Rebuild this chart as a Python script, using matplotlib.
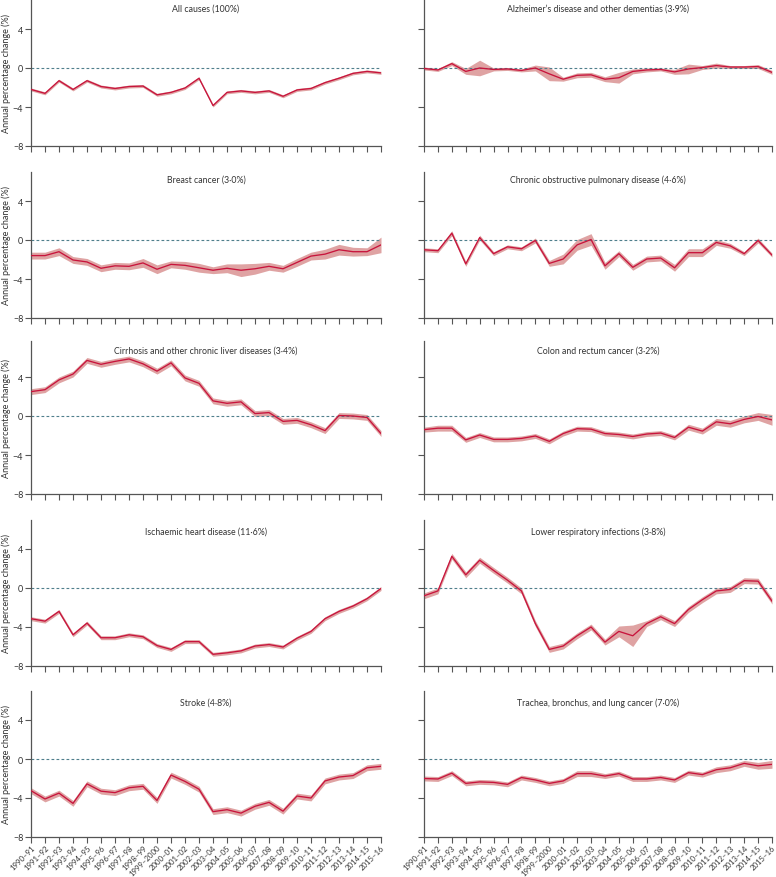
import numpy as np
import matplotlib
matplotlib.use("Agg")
import matplotlib.pyplot as plt

plt.rcParams['font.family'] = ['Lato', 'DejaVu Sans']

periods = ["1990–91", "1991–92", "1992–93", "1993–94", "1994–95", "1995–96", "1996–97",
           "1997–98", "1998–99", "1999–2000", "2000–01", "2001–02", "2002–03", "2003–04",
           "2004–05", "2005–06", "2006–07", "2007–08", "2008–09", "2009–10", "2010–11",
           "2011–12", "2012–13", "2013–14", "2014–15", "2015–16"]

titles = ["All causes (100%)",
          "Alzheimer’s disease and other dementias (3·9%)",
          "Breast cancer (3·0%)",
          "Chronic obstructive pulmonary disease (4·6%)",
          "Cirrhosis and other chronic liver diseases (3·4%)",
          "Colon and rectum cancer (3·2%)",
          "Ischaemic heart disease (11·6%)",
          "Lower respiratory infections (3·8%)",
          "Stroke (4·8%)",
          "Trachea, bronchus, and lung cancer (7·0%)"]

# mean annual percentage change
all_causes = [-2.2, -2.6, -1.3, -2.2, -1.3, -1.9, -2.1, -1.9, -1.85, -2.75, -2.5, -2.05, -1.05,
              -3.85, -2.5, -2.35, -2.5, -2.35, -2.9, -2.25, -2.1, -1.5, -1.05, -0.55, -0.35, -0.5]
alzheimers = [-0.05, -0.2, 0.45, -0.35, 0.0, -0.15, -0.1, -0.25, 0.0, -0.6, -1.15, -0.75, -0.7,
              -1.15, -1.0, -0.35, -0.2, -0.15, -0.4, -0.1, 0.05, 0.25, 0.1, 0.1, 0.15, -0.45]
breast = [-1.6, -1.6, -1.2, -2.05, -2.25, -2.9, -2.65, -2.7, -2.35, -3.0, -2.5, -2.6, -2.85,
          -3.1, -2.9, -3.1, -2.95, -2.7, -2.95, -2.3, -1.65, -1.45, -1.0, -1.2, -1.2, -0.5]
copd = [-1.0, -1.1, 0.7, -2.45, 0.25, -1.4, -0.7, -0.9, -0.05, -2.4, -1.95, -0.5, 0.05,
        -2.65, -1.4, -2.8, -1.95, -1.85, -2.85, -1.3, -1.3, -0.25, -0.6, -1.4, -0.05, -1.55]
cirrhosis = [2.5, 2.7, 3.7, 4.3, 5.7, 5.3, 5.6, 5.85, 5.35, 4.6, 5.45, 3.9, 3.35, 1.55, 1.3,
             1.45, 0.25, 0.35, -0.55, -0.45, -0.9, -1.5, 0.05, 0.0, -0.15, -1.8]
colon = [-1.4, -1.25, -1.25, -2.45, -1.95, -2.4, -2.4, -2.3, -2.05, -2.6, -1.8, -1.3, -1.35,
         -1.8, -1.9, -2.1, -1.85, -1.75, -2.2, -1.15, -1.55, -0.6, -0.8, -0.35, -0.05, -0.4]
ihd = [-3.15, -3.4, -2.4, -4.8, -3.6, -5.1, -5.1, -4.8, -5.0, -5.9, -6.3, -5.5, -5.5, -6.8,
       -6.65, -6.45, -5.95, -5.8, -6.05, -5.15, -4.45, -3.15, -2.4, -1.85, -1.1, -0.05]
lri = [-0.8, -0.3, 3.25, 1.35, 2.85, 1.8, 0.8, -0.3, -3.65, -6.3, -5.95, -4.9, -4.0, -5.55,
       -4.45, -4.9, -3.65, -2.95, -3.65, -2.2, -1.2, -0.3, -0.15, 0.75, 0.7, -1.35]
stroke = [-3.25, -4.1, -3.5, -4.55, -2.55, -3.3, -3.45, -2.95, -2.8, -4.25, -1.65, -2.3, -3.1,
          -5.4, -5.2, -5.55, -4.85, -4.45, -5.35, -3.8, -4.0, -2.25, -1.85, -1.7, -0.9, -0.75]
lung = [-2.0, -2.05, -1.45, -2.5, -2.35, -2.4, -2.6, -1.9, -2.15, -2.5, -2.25, -1.5, -1.5,
        -1.75, -1.5, -2.05, -2.05, -1.9, -2.15, -1.4, -1.6, -1.1, -0.9, -0.45, -0.7, -0.55]

# half-width of the 95% uncertainty interval
all_causes_ui = [0.15] * 26
alzheimers_ui = [0.15, 0.15, 0.2, 0.3, 0.8, 0.15, 0.15, 0.15, 0.3, 0.7, 0.2, 0.25, 0.25,
                 0.25, 0.55, 0.25, 0.2, 0.15, 0.25, 0.5, 0.2, 0.25, 0.15, 0.15, 0.2, 0.2]
breast_ui = [0.35, 0.35, 0.4, 0.35, 0.35, 0.35, 0.35, 0.35, 0.45, 0.45, 0.35, 0.4, 0.45,
             0.35, 0.45, 0.65, 0.55, 0.4, 0.35, 0.4, 0.4, 0.5, 0.55, 0.45, 0.4, 0.8]
copd_ui = [0.2, 0.2, 0.25, 0.25, 0.25, 0.2, 0.2, 0.2, 0.25, 0.3, 0.5, 0.55, 0.6, 0.35,
           0.3, 0.3, 0.3, 0.3, 0.35, 0.4, 0.4, 0.3, 0.25, 0.2, 0.25, 0.2]
cirrhosis_ui = [0.3] * 26
colon_ui = [0.25, 0.3, 0.3, 0.25, 0.25, 0.25, 0.25, 0.25, 0.25, 0.25, 0.25, 0.25, 0.25,
            0.25, 0.25, 0.25, 0.25, 0.25, 0.25, 0.3, 0.3, 0.35, 0.35, 0.35, 0.4, 0.55]
ihd_ui = [0.2] * 26
lri_ui = [0.3, 0.3, 0.3, 0.3, 0.3, 0.3, 0.3, 0.3, 0.3, 0.3, 0.3, 0.3, 0.3, 0.3, 0.55, 1.1,
          0.3, 0.3, 0.3, 0.3, 0.3, 0.3, 0.3, 0.3, 0.3, 0.3]
stroke_ui = [0.3] * 26
lung_ui = [0.25, 0.25, 0.25, 0.25, 0.25, 0.25, 0.25, 0.25, 0.25, 0.25, 0.25, 0.3, 0.3, 0.25,
           0.25, 0.25, 0.25, 0.25, 0.25, 0.25, 0.25, 0.3, 0.3, 0.3, 0.35, 0.4]

series = [(all_causes, all_causes_ui), (alzheimers, alzheimers_ui), (breast, breast_ui),
          (copd, copd_ui), (cirrhosis, cirrhosis_ui), (colon, colon_ui), (ihd, ihd_ui),
          (lri, lri_ui), (stroke, stroke_ui), (lung, lung_ui)]

line_col = "#c8143c"
band_col = "#dfa3a3"
zero_col = "#4f7f8c"
text_col = "#333333"

W, H = 776, 878
fig = plt.figure(figsize=(W / 100, H / 100), dpi=100)

bottoms = [147, 319, 495, 667, 838]   # pixel row of y=-8
tops = [7.0, 7.0, 7.7, 7.0, 7.0]       # upper y limit per row
lefts = [31, 424]
widths = [350, 348]
unit = 9.75                            # pixels per percentage point
title_off = [4, 3, 5, 7, 7]

x = np.arange(len(periods))

for k, (vals, ui) in enumerate(series):
    row, col = divmod(k, 2)
    ymax = tops[row]
    h = (ymax + 8) * unit
    ax = fig.add_axes([lefts[col] / W, 1 - bottoms[row] / H, widths[col] / W, h / H])
    v = np.array(vals)
    u = np.array(ui)
    ax.fill_between(x, v - u, v + u, color=band_col, lw=0, zorder=1)
    ax.plot(x, v, color=line_col, lw=0.95, zorder=3)
    ax.axhline(0, color=zero_col, lw=0.8, ls=(0, (2.5, 2)), zorder=2)
    ax.set_xlim(0, 25)
    ax.set_ylim(-8, ymax)
    ax.set_yticks([-8, -4, 0, 4])
    ax.set_xticks(x)
    for s in ["top", "right"]:
        ax.spines[s].set_visible(False)
    for s in ["left", "bottom"]:
        ax.spines[s].set_color("#555555")
        ax.spines[s].set_linewidth(0.9)
    ax.tick_params(axis="both", length=4, width=0.8, color="#555555",
                   labelsize=6.5, labelcolor=text_col, pad=1.5)
    if col == 0:
        ax.set_ylabel("Annual percentage change (%)", fontsize=6.5, color=text_col, labelpad=1)
    else:
        ax.set_yticklabels([])
    if row == 4:
        ax.set_xticklabels(periods, rotation=45, ha="right", rotation_mode="anchor",
                           fontsize=5.6, color=text_col)
        ax.tick_params(axis="x", pad=0.5)
    else:
        ax.set_xticklabels([])
    ax.annotate(titles[k], xy=(0.5, 1), xycoords="axes fraction",
                xytext=(0, -title_off[row] * 0.72), textcoords="offset points",
                ha="center", va="top", fontsize=6.3, color=text_col)

fig.savefig("out.png", dpi=100)
